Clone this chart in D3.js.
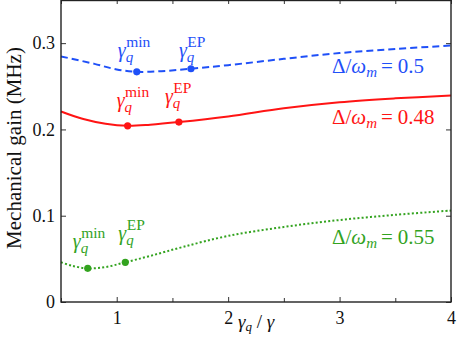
<!DOCTYPE html>
<html>
<head>
<meta charset="utf-8">
<script src="https://cdn.jsdelivr.net/npm/d3@7"></script>
<style>
  body { margin: 0; background: #fff; }
</style>
</head>
<body>
<div id="chart"></div>
<script>
// curve samples: x = gamma_q / gamma, y = gain (MHz)
const xBlue  = [0.5, 0.8, 1.0, 1.18, 1.4, 1.666, 2.0, 2.5, 3.0, 3.5, 4.0];
const yBlue  = [0.2846, 0.276, 0.2695, 0.2668, 0.2675, 0.2703, 0.2745, 0.2818, 0.2885, 0.2932, 0.2973];
const xRed   = [0.5, 0.7, 0.9, 1.098, 1.3, 1.558, 2.0, 2.5, 3.0, 3.5, 4.0];
const yRed   = [0.2208, 0.212, 0.2065, 0.2042, 0.2055, 0.2085, 0.215, 0.2245, 0.2315, 0.236, 0.2393];
const xGreen = [0.5, 0.6, 0.74, 0.9, 1.077, 1.3, 1.6, 2.0, 2.5, 3.0, 3.5, 4.0];
const yGreen = [0.046, 0.042, 0.039, 0.0405, 0.046, 0.0534, 0.064, 0.0766, 0.087, 0.095, 0.101, 0.106];

// special points: [x_min, y_min, x_EP, y_EP]
const ptsBlue  = [1.18, 0.2668, 1.666, 0.2703];
const ptsRed   = [1.098, 0.2042, 1.558, 0.2085];
const ptsGreen = [0.74, 0.039, 1.077, 0.046];

const deltaLabels = ["0.5", "0.48", "0.55"];
const xTicks = [1, 2, 3, 4];
const xMinor = [0.5, 1.5, 2.5, 3.5];
const yTicks = [0, 0.1, 0.2, 0.3];

const serif = '"Liberation Serif", "Times New Roman", "DejaVu Serif", serif';

const w = 457, h = 339;
const mLeft = 61, mRight = 451, mTop = 0, mBottom = 302;

const svg = d3.select("#chart").append("svg")
  .attr("width", w).attr("height", h);

const x = d3.scaleLinear().domain([0.5, 4]).range([mLeft, mRight]);
const y = d3.scaleLinear().domain([0, 0.35]).range([mBottom, mTop]);

const series = [
  {xs: xBlue, ys: yBlue, pts: ptsBlue, color: "#1f50f8", dash: "7,4", lab: deltaLabels[0],
   minOff: [-19, -15], epOff: [-12, -12], labPos: [332, 73]},
  {xs: xRed, ys: yRed, pts: ptsRed, color: "#ff1414", dash: null, lab: deltaLabels[1],
   minOff: [-11, -19], epOff: [-14, -19], labPos: [332, 124]},
  {xs: xGreen, ys: yGreen, pts: ptsGreen, color: "#33a31f", dash: "2,2.2", lab: deltaLabels[2],
   minOff: [-15, -20], epOff: [-7, -22], labPos: [332, 244]}
];

const line = d3.line()
  .x(d => x(d[0])).y(d => y(d[1]))
  .curve(d3.curveCatmullRom.alpha(0.5));

series.forEach(s => {
  const data = s.xs.map((v, i) => [v, s.ys[i]]);
  svg.append("path")
    .datum(data)
    .attr("d", line)
    .attr("fill", "none")
    .attr("stroke", s.color)
    .attr("stroke-width", 2)
    .attr("stroke-dasharray", s.dash);

  const marks = [
    {px: s.pts[0], py: s.pts[1], sup: "min", off: s.minOff},
    {px: s.pts[2], py: s.pts[3], sup: "EP", off: s.epOff}
  ];
  marks.forEach(m => {
    svg.append("circle")
      .attr("cx", x(m.px)).attr("cy", y(m.py))
      .attr("r", 3.6).attr("fill", s.color);
    const t = svg.append("text")
      .attr("x", x(m.px) + m.off[0])
      .attr("y", y(m.py) + m.off[1])
      .attr("fill", s.color)
      .style("font-family", serif)
      .style("font-size", "20px");
    t.append("tspan").style("font-style", "italic").text("γ");
    t.append("tspan").style("font-style", "italic").style("font-size", "15px")
      .attr("dy", 5).text("q");
    t.append("tspan").style("font-size", "15.5px").attr("dx", -7).attr("dy", -15).text(m.sup);
  });

  const lt = svg.append("text")
    .attr("x", s.labPos[0]).attr("y", s.labPos[1])
    .attr("fill", s.color)
    .style("font-family", serif).style("font-size", "21px");
  lt.append("tspan").text("Δ/");
  lt.append("tspan").style("font-style", "italic").text("ω");
  lt.append("tspan").style("font-style", "italic").style("font-size", "15px").attr("dy", 4).text("m");
  lt.append("tspan").attr("dy", -4).attr("dx", 4).text("=");
  lt.append("tspan").attr("dx", 5).text(s.lab);
});

// axes with inward ticks on all sides
const ax = svg.append("g");
ax.append("g").attr("transform", `translate(0,${mBottom})`)
  .call(d3.axisBottom(x).tickValues(xTicks).tickSize(-5).tickPadding(9).tickFormat(d3.format("d")));
ax.append("g").attr("transform", `translate(0,${mBottom})`)
  .call(d3.axisBottom(x).tickValues(xMinor).tickSize(-4).tickFormat(""));
ax.append("g").attr("transform", `translate(0,${mTop})`)
  .call(d3.axisTop(x).tickValues(xTicks.concat(xMinor)).tickSize(-4).tickFormat(""));
ax.append("g").attr("transform", `translate(${mLeft},0)`)
  .call(d3.axisLeft(y).tickValues(yTicks).tickSize(-5).tickPadding(6)
    .tickFormat(d => d === 0 ? "0" : d3.format(".1f")(d)));
ax.append("g").attr("transform", `translate(${mRight},0)`)
  .call(d3.axisRight(y).tickValues(yTicks).tickSize(-5).tickFormat(""));

ax.selectAll(".domain").remove();
ax.selectAll("line").attr("stroke", "#333").attr("stroke-width", 1);
ax.selectAll("text").attr("fill", "#111")
  .style("font-family", serif).style("font-size", "18px");

svg.append("rect")
  .attr("x", mLeft).attr("y", mTop + 0.5)
  .attr("width", mRight - mLeft).attr("height", mBottom - mTop - 0.5)
  .attr("fill", "none").attr("stroke", "#222").attr("stroke-width", 1.4);

// axis titles
svg.append("text")
  .attr("transform", `translate(21,${(mTop + mBottom) / 2 - 3}) rotate(-90)`)
  .attr("text-anchor", "middle").attr("fill", "#111")
  .style("font-family", serif).style("font-size", "21px")
  .text("Mechanical gain (MHz)");

const xl = svg.append("text")
  .attr("x", 238).attr("y", 328).attr("fill", "#111")
  .style("font-family", serif).style("font-size", "19px");
xl.append("tspan").style("font-style", "italic").text("γ");
xl.append("tspan").style("font-style", "italic").style("font-size", "13px").attr("dy", 3).text("q");
xl.append("tspan").attr("dy", -3).text(" / ");
xl.append("tspan").style("font-style", "italic").text("γ");
</script>
</body>
</html>
